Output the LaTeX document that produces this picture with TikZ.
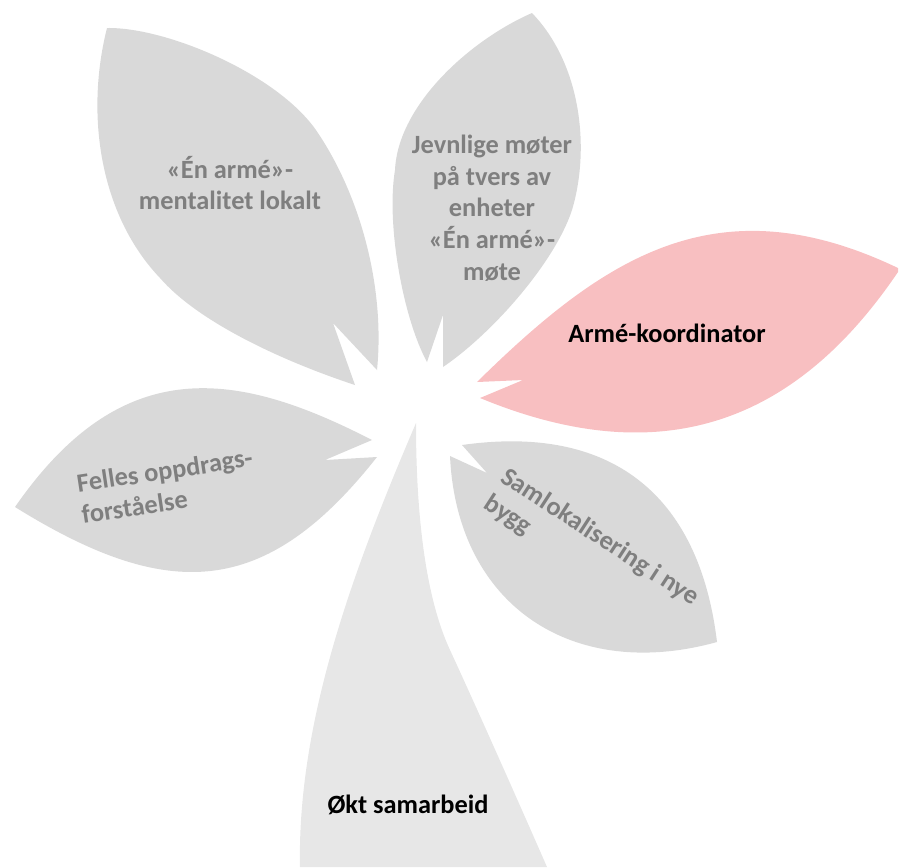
\documentclass[tikz,border=0pt]{standalone}
\usepackage{fontspec}
\setmainfont{Carlito}
\usepackage{tikz}
\usetikzlibrary{positioning, calc}

\definecolor{leafgray}{HTML}{D9D9D9}
\definecolor{stemgray}{HTML}{E7E7E7}
\definecolor{leafpink}{HTML}{F8BFC1}
\definecolor{textgray}{HTML}{7F7F7F}

\begin{document}
\begin{tikzpicture}[x=0.02cm, y=-0.02cm,
        leaf/.style={fill=leafgray},
        stem/.style={fill=stemgray},
        pinkleaf/.style={fill=leafpink},
        greytext/.style={text=textgray, font=\fontsize{15}{18}\selectfont\bfseries, align=center, inner sep=0pt},
        blacktext/.style={text=black, font=\fontsize{15}{18}\selectfont\bfseries, align=center, inner sep=0pt}]
                \useasboundingbox (0,0) rectangle (899,867);
                \fill[stem] (416,423) .. controls (357,561) and (297,717) .. (300,867) -- (547,867)
                    .. controls (519,803) and (475,704) .. (450,650) .. controls (425,596) and (416,513) .. cycle;
                \fill[leaf] (377,370) .. controls (385,290) and (362,199) .. (318,133) .. controls (280,75) and (167,27) .. (107,28)
                    .. controls (85,115) and (100,215) .. (160,278) .. controls (200,324) and (288,363) .. (355,385) -- (333,323) -- cycle;
                \fill[leaf] (532,13) .. controls (470,40) and (398,105) .. (395,170) .. controls (386,224) and (403,318) .. (427,362)
                    -- (443,315) -- (443,367) .. controls (493,333) and (555,262) .. (572,210) .. controls (590,150) and (582,65) .. cycle;
                \fill[pinkleaf] (477,382) .. controls (605,256) and (718,182) .. (898,268) -- (898,272)
                    .. controls (797,421) and (664,474) .. (480,398) -- (523,380) -- cycle;
                \fill[leaf] (462,445) .. controls (610,424) and (699,493) .. (717,642)
                    .. controls (573,682) and (457,606) .. (450,456) -- (487,473) -- cycle;
                \fill[leaf] (15,507) .. controls (123,351) and (238,371) .. (372,440) -- (325,460) -- (377,457)
                    .. controls (265,599) and (168,602) .. cycle;
                \node[greytext] (armeA) at (230,183) {«Én armé»-\\mentalitet lokalt};
                \node[greytext] (jevn) at (492,208) {Jevnlige møter\\på tvers av\\enheter\\«Én armé»-\\møte};
                \node[blacktext] (koord) at (667,333) {Armé-koordinator};
                \node[greytext, align=left, rotate=-33] (saml) at (591,551) {Samlokalisering i nye\\bygg};
                \node[greytext, align=left, rotate=8.6] (felles) at (167,486) {Felles oppdrags-\\forståelse};
                \node[blacktext] (okt) at (408,805) {Økt samarbeid};
            \end{tikzpicture}
\end{document}
